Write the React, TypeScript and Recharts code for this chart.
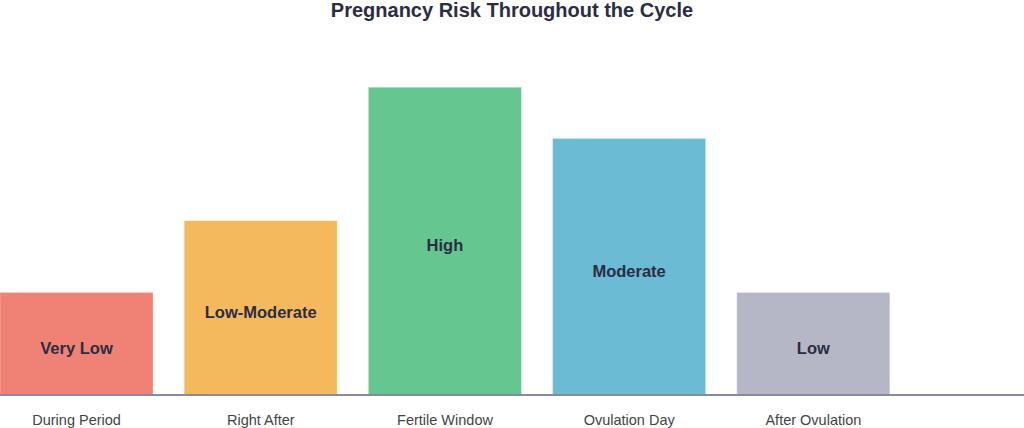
import { BarChart, Bar, XAxis, YAxis, Cell, LabelList } from 'recharts'

const phases = ['During Period', 'Right After', 'Fertile Window', 'Ovulation Day', 'After Ovulation']
const riskScores = [10, 17, 30, 25, 10]
const riskLevels = ['Very Low', 'Low-Moderate', 'High', 'Moderate', 'Low']
const COLORS = ['#ef8275', '#f5b95d', '#66c68f', '#6bbbd5', '#b5b7c6']

const data = phases.map((phase, i) => ({
  phase,
  score: riskScores[i],
  level: riskLevels[i],
}))

const FONT = '"Liberation Sans", Arial, sans-serif'

function BarLabel(props: any) {
  const { x, y, width, height, value } = props
  return (
    <text
      x={x + width / 2}
      y={y + height / 2 + 10}
      textAnchor="middle"
      fontFamily={FONT}
      fontSize={16.5}
      fontWeight="bold"
      fill="#2b2d42"
    >
      {value}
    </text>
  )
}

export default function App() {
  return (
    <div style={{ position: 'absolute', left: 0, top: 0, width: 1024, height: 428, overflow: 'hidden', background: '#fff' }}>
      <div
        style={{
          position: 'absolute',
          top: 0,
          left: 0,
          width: 1024,
          textAlign: 'center',
          fontFamily: FONT,
          fontWeight: 'bold',
          fontSize: 20,
          lineHeight: '20px',
          color: '#2b2d42',
        }}
      >
        Pregnancy Risk Throughout the Cycle
      </div>
      <BarChart
        width={1024}
        height={428}
        data={data}
        margin={{ top: 36, right: 0, bottom: 0, left: 0 }}
        barCategoryGap={15.5}
      >
        <XAxis
          dataKey="phase"
          height={33}
          padding={{ left: -15.5, right: 118.5 }}
          axisLine={{ stroke: '#888aa3', strokeWidth: 2 }}
          tickLine={false}
          tickSize={6}
          tickMargin={14}
          tick={{ fill: '#444', fontSize: 14.5, fontFamily: FONT }}
          interval={0}
        />
        <YAxis hide domain={[0, 35]} />
        <Bar dataKey="score" isAnimationActive={false} stroke="#ffffff" strokeOpacity={0.25}>
          {data.map((_, i) => (
            <Cell key={i} fill={COLORS[i % COLORS.length]} />
          ))}
          <LabelList dataKey="level" content={BarLabel} />
        </Bar>
      </BarChart>
    </div>
  )
}
